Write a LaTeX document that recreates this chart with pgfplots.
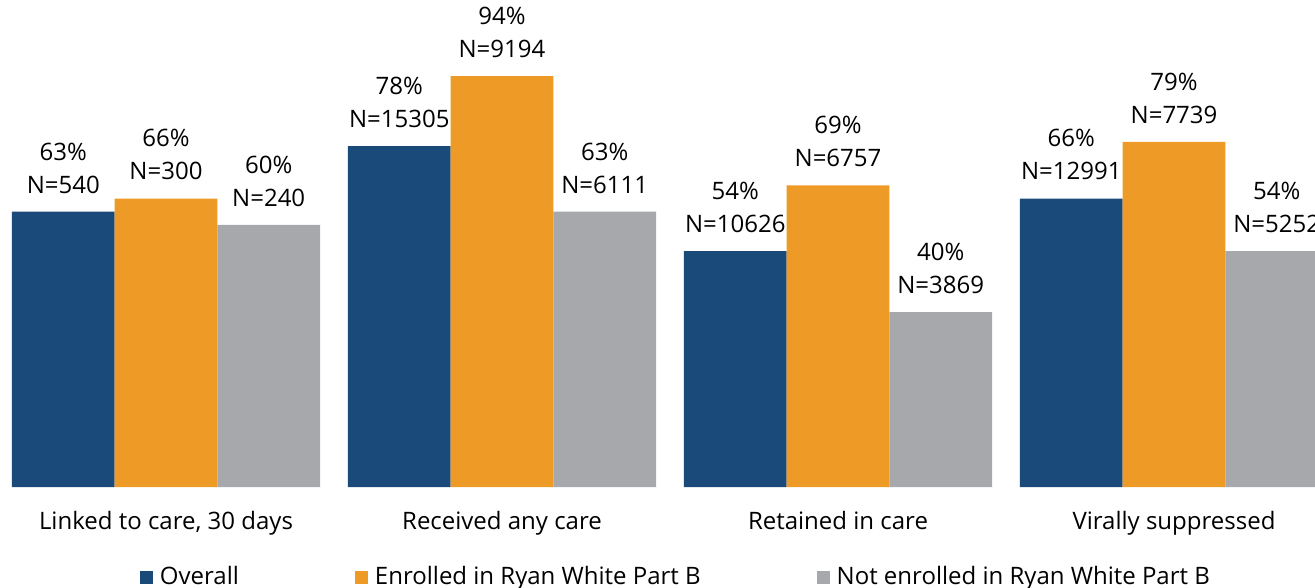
\documentclass[border=0pt]{standalone}
\usepackage{fontspec}
\setmainfont{Open Sans}
\usepackage{pgfplots}
\usepackage{pgfplotstable}
\pgfplotsset{compat=1.18}

\definecolor{cBlue}{HTML}{194A7A}
\definecolor{cOrange}{HTML}{EE9A26}
\definecolor{cGray}{HTML}{A7A8AC}

\pgfplotstableread{
x y n
0 63 540
1 78 15305
2 54 10626
3 66 12991
}\overall
\pgfplotstableread{
x y n
0 66 300
1 94 9194
2 69 6757
3 79 7739
}\enrolled
\pgfplotstableread{
x y n
0 60 240
1 63 6111
2 40 3869
3 54 5252
}\notenrolled

\begin{document}
\begin{tikzpicture}
\begin{axis}[
    scale only axis, width=657.5pt, height=243.5pt,
    xmin=-0.494, xmax=3.4196, ymin=0, ymax=111.44,
    axis line style={draw=none}, major tick length=0pt, ytick=\empty,
    clip=true,
    ybar=0pt, bar width=0.3057,
    xtick=data,
    xticklabels={{Linked to care, 30 days}, Received any care, Retained in care, Virally suppressed},
    x tick label style={font=\fontsize{12}{14}\selectfont, anchor=base, yshift=-21pt},
    point meta=explicit symbolic,
    visualization depends on={y \as \pval},
    nodes near coords={\pgfmathprintnumber[assume math mode=true,precision=0]{\pval}\%\\N=\pgfplotspointmeta},
    every node near coord/.append style={font=\fontsize{12}{16.5}\selectfont, align=center, anchor=south, inner sep=0pt, yshift=9pt},
    legend style={at={(0.514,-0.185)}, anchor=center, draw=none, fill=none,
        legend columns=-1, font=\fontsize{12}{14}\selectfont,
        /tikz/every even column/.append style={column sep=57pt},
        nodes={inner sep=1pt}},
    legend image code/.code={\fill[#1,draw=none] (0pt,-3.25pt) rectangle (6.5pt,3.25pt); \path (9pt,0pt);},
]
\addplot[fill=cBlue, draw=none, bar shift=-0.3057] table[x=x,y=y,meta=n] {\overall};
\addplot[fill=cOrange, draw=none, bar shift=0] table[x=x,y=y,meta=n] {\enrolled};
\addplot[fill=cGray, draw=none, bar shift=0.3057] table[x=x,y=y,meta=n] {\notenrolled};
\legend{Overall, Enrolled in Ryan White Part B, Not enrolled in Ryan White Part B}
\coordinate (bl) at (rel axis cs:0,0);
\coordinate (tr) at (rel axis cs:1,1);
\end{axis}
\pgfresetboundingbox
\useasboundingbox ([yshift=-50.5pt]bl) rectangle (tr);
\end{tikzpicture}
\end{document}
